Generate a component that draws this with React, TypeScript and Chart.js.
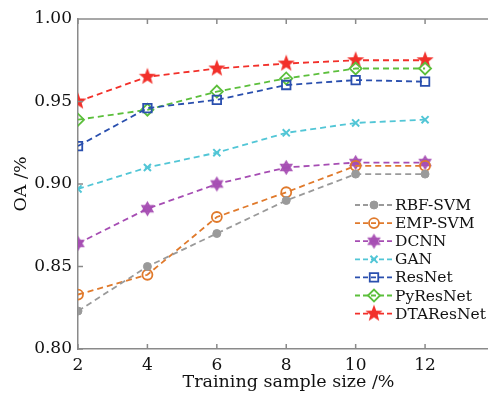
import React, { useEffect, useRef } from "react";
import { Chart, registerables } from "chart.js";
import { drawPoint } from "chart.js/helpers";
Chart.register(...registerables);

const sampleSizes = [2, 4, 6, 8, 10, 12];
const yTicks = [0.8, 0.85, 0.9, 0.95, 1.0];
const seriesNames = ["RBF-SVM", "EMP-SVM", "DCNN", "GAN", "ResNet", "PyResNet", "DTAResNet"];
const rbfSvm = [0.823, 0.850, 0.870, 0.890, 0.906, 0.906];
const empSvm = [0.833, 0.845, 0.880, 0.895, 0.911, 0.911];
const dcnn = [0.864, 0.885, 0.900, 0.910, 0.913, 0.913];
const gan = [0.897, 0.910, 0.919, 0.931, 0.937, 0.939];
const resNet = [0.923, 0.946, 0.951, 0.960, 0.963, 0.962];
const pyResNet = [0.939, 0.945, 0.956, 0.964, 0.970, 0.970];
const dtaResNet = [0.950, 0.965, 0.970, 0.973, 0.975, 0.975];

const FONT = "'DejaVu Serif', 'Liberation Serif', serif";
const AXIS = "#8a8a8a";

function makeStar(color: string, points: number, outer: number, inner: number) {
  const s = Math.ceil(outer * 2 + 4);
  const c = document.createElement("canvas");
  c.width = s;
  c.height = s;
  const ctx = c.getContext("2d")!;
  ctx.translate(s / 2, s / 2);
  ctx.beginPath();
  for (let i = 0; i < points * 2; i++) {
    const r = i % 2 === 0 ? outer : inner;
    const a = -Math.PI / 2 + (i * Math.PI) / points;
    const x = r * Math.cos(a);
    const y = r * Math.sin(a);
    if (i === 0) ctx.moveTo(x, y);
    else ctx.lineTo(x, y);
  }
  ctx.closePath();
  ctx.fillStyle = color;
  ctx.fill();
  return c;
}

function makeHexagram(color: string, r: number) {
  const s = Math.ceil(r * 2 + 4);
  const c = document.createElement("canvas");
  c.width = s;
  c.height = s;
  const ctx = c.getContext("2d")!;
  ctx.translate(s / 2, s / 2);
  ctx.fillStyle = color;
  ctx.strokeStyle = color;
  ctx.lineWidth = 1.2;
  for (const off of [-Math.PI / 2, Math.PI / 2]) {
    ctx.beginPath();
    for (let i = 0; i < 3; i++) {
      const a = off + (i * 2 * Math.PI) / 3;
      const x = r * Math.cos(a);
      const y = r * Math.sin(a);
      if (i === 0) ctx.moveTo(x, y);
      else ctx.lineTo(x, y);
    }
    ctx.closePath();
    ctx.globalAlpha = 0.85;
    ctx.fill();
    ctx.globalAlpha = 1;
    ctx.stroke();
  }
  return c;
}

const frameTicksPlugin = {
  id: "frameTicks",
  afterDraw(chart: any) {
    const { ctx, chartArea } = chart;
    const xs = chart.scales.x;
    const ys = chart.scales.y;
    ctx.save();
    ctx.strokeStyle = AXIS;
    ctx.lineWidth = 1.5;
    ctx.beginPath();
    ctx.moveTo(chartArea.left, chartArea.top);
    ctx.lineTo(chartArea.right, chartArea.top);
    for (const v of sampleSizes) {
      const px = xs.getPixelForValue(v);
      ctx.moveTo(px, chartArea.bottom);
      ctx.lineTo(px, chartArea.bottom - 5);
      ctx.moveTo(px, chartArea.top);
      ctx.lineTo(px, chartArea.top + 5);
    }
    for (const v of yTicks) {
      const py = ys.getPixelForValue(v);
      ctx.moveTo(chartArea.left, py);
      ctx.lineTo(chartArea.left + 5, py);
    }
    ctx.stroke();
    ctx.restore();
  },
};

const legendPlugin = {
  id: "customLegend",
  afterDraw(chart: any) {
    const { ctx, chartArea } = chart;
    const x0 = chartArea.left + 277;
    const x1 = chartArea.left + 315;
    const tx = chartArea.left + 317;
    let y = chartArea.top + 186;
    const dy = 18.1;
    ctx.save();
    chart.data.datasets.forEach((ds: any) => {
      ctx.strokeStyle = ds.borderColor;
      ctx.lineWidth = 1.8;
      ctx.setLineDash([5, 3]);
      ctx.beginPath();
      ctx.moveTo(x0, y);
      ctx.lineTo(x1, y);
      ctx.stroke();
      ctx.setLineDash([]);
      ctx.strokeStyle = ds.pointBorderColor;
      ctx.fillStyle = ds.pointBackgroundColor;
      ctx.lineWidth = ds.pointBorderWidth;
      drawPoint(ctx, { pointStyle: ds.pointStyle, radius: ds.pointRadius, rotation: 0, borderWidth: ds.pointBorderWidth }, (x0 + x1) / 2, y);
      ctx.fillStyle = "#111";
      ctx.font = `15.5px ${FONT}`;
      ctx.textBaseline = "middle";
      ctx.textAlign = "left";
      ctx.fillText(ds.label, tx, y + 1);
      y += dy;
    });
    ctx.restore();
  },
};

export default function App() {
  const ref = useRef<HTMLCanvasElement>(null);
  useEffect(() => {
    const seriesValues = [rbfSvm, empSvm, dcnn, gan, resNet, pyResNet, dtaResNet];
    const colors = ["#9a9a9a", "#e07a2c", "#a64db3", "#52c6d6", "#2a4fae", "#5cbf3c", "#f2302a"];
    const styles: any[] = [
      { pointStyle: "circle", pointRadius: 4, fill: true, bw: 1 },
      { pointStyle: "circle", pointRadius: 5, fill: false, bw: 1.8 },
      { pointStyle: makeHexagram(colors[2], 6.5), pointRadius: 6, fill: true, bw: 1 },
      { pointStyle: "crossRot", pointRadius: 5, fill: false, bw: 2 },
      { pointStyle: "rect", pointRadius: 6, fill: false, bw: 1.8 },
      { pointStyle: "rectRot", pointRadius: 6, fill: false, bw: 1.8 },
      { pointStyle: makeStar(colors[6], 5, 9, 3.8), pointRadius: 8, fill: true, bw: 1 },
    ];
    const datasets = seriesNames.map((name, i) => ({
      label: name,
      data: sampleSizes.map((x, j) => ({ x, y: seriesValues[i][j] })),
      borderColor: colors[i],
      borderWidth: 1.8,
      borderDash: [6, 4],
      pointStyle: styles[i].pointStyle,
      pointRadius: styles[i].pointRadius,
      pointBorderColor: colors[i],
      pointBackgroundColor: styles[i].fill ? colors[i] : "rgba(0,0,0,0)",
      pointBorderWidth: styles[i].bw,
      tension: 0,
      fill: false,
    }));
    const chart = new Chart(ref.current!, {
      type: "line",
      data: { datasets },
      options: {
        animation: false,
        responsive: false,
        maintainAspectRatio: false,
        layout: { padding: { top: 19, right: 0, left: 0, bottom: 0 } },
        plugins: { legend: { display: false }, tooltip: { enabled: false } },
        scales: {
          x: {
            type: "linear",
            min: 2,
            max: 14.13,
            grid: { display: false, drawTicks: false },
            border: { display: true, color: AXIS, width: 1.5 },
            afterBuildTicks: (s: any) => {
              s.ticks = sampleSizes.map((v) => ({ value: v }));
            },
            afterFit: (s: any) => {
              s.height = 44;
              s.paddingLeft = 0;
              s.paddingRight = 0;
            },
            ticks: { padding: 6, color: "#111", font: { family: FONT, size: 17 }, maxRotation: 0 },
            title: {
              display: true,
              text: "Training sample size /%",
              color: "#111",
              font: { family: FONT, size: 17.5 },
              padding: { top: 0, bottom: 0 },
            },
          },
          y: {
            type: "linear",
            min: 0.8,
            max: 1.0,
            grid: { display: false, drawTicks: false },
            border: { display: true, color: AXIS, width: 1.5 },
            afterBuildTicks: (s: any) => {
              s.ticks = yTicks.map((v) => ({ value: v }));
            },
            afterFit: (s: any) => {
              s.width = 78;
              s.paddingTop = 0;
              s.paddingBottom = 0;
            },
            ticks: {
              padding: 6,
              color: "#111",
              font: { family: FONT, size: 17 },
              callback: (v: any) => Number(v).toFixed(2),
            },
            title: {
              display: true,
              text: "OA /%",
              color: "#111",
              font: { family: FONT, size: 17.5 },
              padding: { top: 11, bottom: 0 },
            },
          },
        },
      },
      plugins: [frameTicksPlugin, legendPlugin],
    });
    return () => chart.destroy();
  }, []);
  return (
    <div style={{ position: "fixed", left: 0, top: 0, width: 488, height: 393, overflow: "hidden", background: "#fff" }}>
      <canvas ref={ref} width={508} height={393} style={{ width: 508, height: 393 }} />
    </div>
  );
}
